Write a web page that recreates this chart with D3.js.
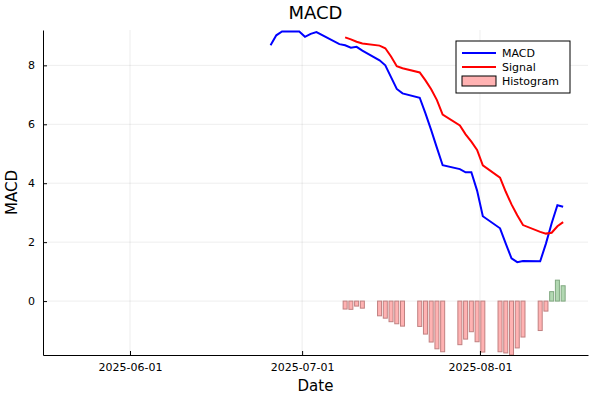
<!DOCTYPE html>
<html><head><meta charset="utf-8">
<script src="https://cdn.jsdelivr.net/npm/d3@7"></script>
<style>body{margin:0;background:#fff}</style>
</head><body><div id="main-container"></div>
<script>
var macdDates = ["2025-06-25","2025-06-26","2025-06-27","2025-06-30","2025-07-01","2025-07-02","2025-07-03","2025-07-07",
  "2025-07-08","2025-07-09","2025-07-10","2025-07-11","2025-07-14","2025-07-15","2025-07-16","2025-07-17","2025-07-18",
  "2025-07-21","2025-07-22","2025-07-23","2025-07-24","2025-07-25","2025-07-28","2025-07-29","2025-07-30","2025-07-31","2025-08-01",
  "2025-08-04","2025-08-05","2025-08-06","2025-08-07","2025-08-08","2025-08-11","2025-08-12","2025-08-13","2025-08-14","2025-08-15"];
var macdValues = [8.68,9.02,9.15,9.15,8.97,9.07,9.13,8.72,
  8.68,8.6,8.63,8.5,8.17,8.0,7.6,7.2,7.05,
  6.9,6.37,5.8,5.2,4.61,4.48,4.37,4.37,3.75,2.88,
  2.47,1.95,1.45,1.32,1.36,1.35,1.95,2.64,3.25,3.2];
var signalDates = macdDates.slice(8);
var signalValues = [8.95,8.88,8.80,8.74,8.67,8.58,8.30,7.97,7.90,
  7.76,7.49,7.19,6.82,6.33,5.96,5.66,5.41,5.13,4.61,
  4.19,3.71,3.28,2.91,2.58,2.35,2.29,2.32,2.54,2.68];
var histValues = [-0.27,-0.28,-0.17,-0.24,-0.5,-0.58,-0.7,-0.77,-0.85,
  -0.86,-1.12,-1.39,-1.62,-1.72,-1.48,-1.29,-1.04,-1.38,-1.73,
  -1.72,-1.76,-1.83,-1.59,-1.22,-1.0,-0.34,0.32,0.71,0.52];
var xTicks = ["2025-06-01","2025-07-01","2025-08-01"];
var yTicks = [0,2,4,6,8];

var W = 600, H = 400;
var m = {left: 43, right: 12, top: 30, bottom: 45};
var font = "DejaVu Sans, sans-serif";
var parse = function(s) { return new Date(s + "T12:00:00"); };

var svg = d3.select("#main-container").append("svg").attr("width", W).attr("height", H);

var x = d3.scaleTime()
  .domain([new Date("2025-05-16T20:00:00"), new Date("2025-08-19T20:00:00")])
  .range([m.left, W - m.right]);
var y = d3.scaleLinear().domain([-1.83, 9.2]).range([H - m.bottom, m.top]);

// grid
svg.append("g").selectAll("line").data(xTicks).enter().append("line")
  .attr("x1", function(d) { return x(new Date(d + "T00:00:00")); })
  .attr("x2", function(d) { return x(new Date(d + "T00:00:00")); })
  .attr("y1", m.top).attr("y2", H - m.bottom)
  .attr("stroke", "#000").attr("stroke-opacity", 0.07);
svg.append("g").selectAll("line").data(yTicks).enter().append("line")
  .attr("x1", m.left).attr("x2", W - m.right)
  .attr("y1", function(d) { return y(d); }).attr("y2", function(d) { return y(d); })
  .attr("stroke", "#000").attr("stroke-opacity", 0.07);

// histogram
var barW = x(parse("2025-07-09")) - x(parse("2025-07-08"));
svg.append("g").selectAll("rect").data(histValues).enter().append("rect")
  .attr("x", function(d, i) { return x(parse(signalDates[i])) - barW * 0.35; })
  .attr("width", barW * 0.7)
  .attr("y", function(d) { return y(Math.max(0, d)); })
  .attr("height", function(d) { return Math.abs(y(d) - y(0)); })
  .attr("fill", function(d) { return d < 0 ? "#ffb2b2" : "#b2d8b2"; })
  .attr("stroke", function(d) { return d < 0 ? "#c08080" : "#80a880"; })
  .attr("stroke-width", 1);

var line = d3.line().x(function(d) { return x(parse(d[0])); }).y(function(d) { return y(d[1]); });
svg.append("path").datum(d3.zip(macdDates, macdValues)).attr("d", line)
  .attr("fill", "none").attr("stroke", "#0000ff").attr("stroke-width", 2);
svg.append("path").datum(d3.zip(signalDates, signalValues)).attr("d", line)
  .attr("fill", "none").attr("stroke", "#ff0000").attr("stroke-width", 2);

// axes
var xAxis = d3.axisBottom(x).tickValues(xTicks.map(function(d) { return new Date(d + "T00:00:00"); }))
  .tickFormat(d3.timeFormat("%Y-%m-%d")).tickSizeInner(-4).tickSizeOuter(0).tickPadding(8);
var gx = svg.append("g").attr("transform", "translate(0," + (H - m.bottom) + ")").call(xAxis);
var yAxis = d3.axisLeft(y).tickValues(yTicks).tickFormat(d3.format("d")).tickSizeInner(-4).tickSizeOuter(0).tickPadding(8);
var gy = svg.append("g").attr("transform", "translate(" + m.left + ",0)").call(yAxis);
[gx, gy].forEach(function(g) {
  g.selectAll("text").attr("font-family", font).attr("font-size", "11px").attr("fill", "#000");
  g.select(".domain").attr("stroke", "#000");
});

svg.append("text").text("MACD").attr("x", (m.left + W - m.right) / 2).attr("y", 19)
  .attr("text-anchor", "middle").attr("font-family", font).attr("font-size", "18px");
svg.append("text").text("Date").attr("x", (m.left + W - m.right) / 2).attr("y", 391)
  .attr("text-anchor", "middle").attr("font-family", font).attr("font-size", "15px");
svg.append("text").text("MACD").attr("transform", "translate(17," + ((m.top + H - m.bottom) / 2) + ") rotate(-90)")
  .attr("text-anchor", "middle").attr("font-family", font).attr("font-size", "15px");

// legend
var lg = svg.append("g").attr("transform", "translate(456,41)");
lg.append("rect").attr("width", 114).attr("height", 52).attr("fill", "#fff").attr("stroke", "#000");
var items = [["MACD", "#0000ff"], ["Signal", "#ff0000"], ["Histogram", "hist"]];
items.forEach(function(it, i) {
  var yy = 12 + i * 14;
  if (it[1] === "hist") {
    lg.append("rect").attr("x", 6).attr("y", yy - 5).attr("width", 34).attr("height", 10)
      .attr("fill", "#ffb2b2").attr("stroke", "#000");
  } else {
    lg.append("line").attr("x1", 6).attr("x2", 40).attr("y1", yy).attr("y2", yy)
      .attr("stroke", it[1]).attr("stroke-width", 2);
  }
  lg.append("text").text(it[0]).attr("x", 46).attr("y", yy + 4)
    .attr("font-family", font).attr("font-size", "11px");
});
</script></body></html>
